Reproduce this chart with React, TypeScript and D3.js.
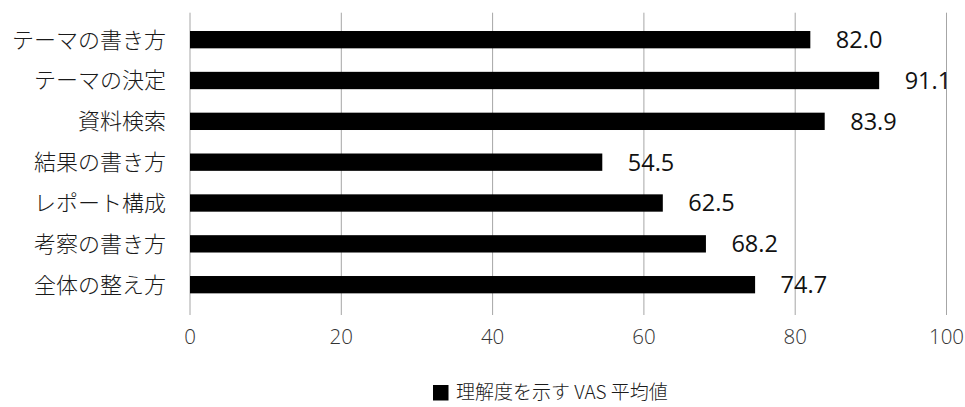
import React from "react";
import * as d3 from "d3";

// Survey items and their mean VAS comprehension scores
const categories: string[] = [
  "テーマの書き方",
  "テーマの決定",
  "資料検索",
  "結果の書き方",
  "レポート構成",
  "考察の書き方",
  "全体の整え方",
];
const vasMeans: number[] = [82.0, 91.1, 83.9, 54.5, 62.5, 68.2, 74.7];
const xTicks: number[] = [0, 20, 40, 60, 80, 100];
const legendLabel = "理解度を示す VAS 平均値";

const WIDTH = 965;
const HEIGHT = 407;
const PLOT_LEFT = 190;
const PLOT_RIGHT = 946.5;
const PLOT_TOP = 12.7;
const PLOT_BOTTOM = 315;
const BAND_TOP = 19.25;
const BAND_BOTTOM = 305.1;

const CJK = "'Noto Sans CJK JP', 'Noto Sans', sans-serif";
const NUM = "'Open Sans', 'Noto Sans', sans-serif";

export default function App() {
  const x = d3.scaleLinear().domain([0, 100]).range([PLOT_LEFT, PLOT_RIGHT]);
  const inner = 1 - 17.33 / 40.83;
  const y = d3
    .scaleBand<string>()
    .domain(categories)
    .range([BAND_TOP, BAND_BOTTOM])
    .paddingInner(inner)
    .paddingOuter(inner / 2);

  const bars = categories.map((c, i) => ({ cat: c, value: vasMeans[i] }));
  const fmt = d3.format(".1f");

  return (
    <svg
      width={WIDTH}
      height={HEIGHT}
      viewBox={`0 0 ${WIDTH} ${HEIGHT}`}
      style={{ position: "absolute", left: 0, top: 0, background: "#fff" }}
    >
      <rect x={0} y={0} width={WIDTH} height={HEIGHT} fill="#fff" />

      {/* vertical gridlines */}
      {xTicks.map((t) => (
        <line
          key={`g${t}`}
          x1={x(t)}
          x2={x(t)}
          y1={PLOT_TOP}
          y2={PLOT_BOTTOM}
          stroke="#a6a6a6"
          strokeWidth={1}
        />
      ))}

      {/* bars */}
      {bars.map((b) => (
        <rect
          key={b.cat}
          x={x(0)}
          y={y(b.cat)}
          width={x(b.value) - x(0)}
          height={y.bandwidth()}
          fill="#000"
        />
      ))}

      {/* value labels */}
      {bars.map((b) => (
        <text
          key={`v${b.cat}`}
          x={x(b.value) + 25.5}
          y={(y(b.cat) as number) + y.bandwidth() / 2}
          dy="0.36em"
          fontFamily={NUM}
          fontSize={23.5}
          fill="#111"
        >
          {fmt(b.value)}
        </text>
      ))}

      {/* category labels */}
      {categories.map((c) => (
        <text
          key={`c${c}`}
          x={166}
          y={(y(c) as number) + y.bandwidth() / 2}
          dy="0.36em"
          textAnchor="end"
          fontFamily={CJK}
          fontWeight={300}
          fontSize={22}
          fill="#1a1a1a"
        >
          {c}
        </text>
      ))}

      {/* x tick labels */}
      {xTicks.map((t) => (
        <text
          key={`t${t}`}
          x={x(t)}
          y={337}
          dy="0.36em"
          textAnchor="middle"
          fontFamily={NUM}
          fontWeight={300}
          fontSize={20.5}
          fill="#333"
        >
          {t}
        </text>
      ))}

      {/* legend */}
      <g>
        <rect x={433} y={385} width={15.5} height={15.5} fill="#000" />
        <text
          x={456}
          y={392}
          dy="0.36em"
          fontFamily={CJK}
          fontWeight={300}
          fontSize={19}
          fill="#1a1a1a"
        >
          {legendLabel}
        </text>
      </g>
    </svg>
  );
}
